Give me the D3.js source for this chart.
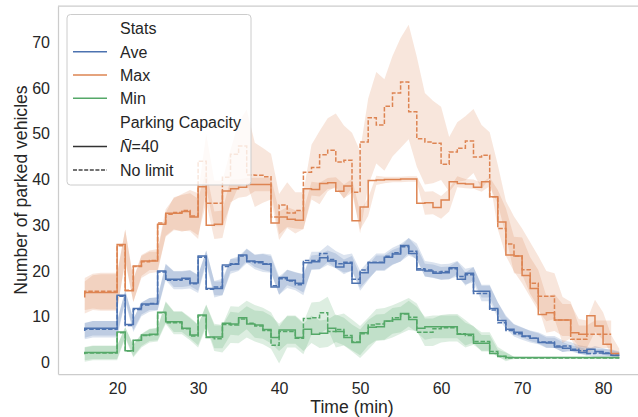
<!DOCTYPE html>
<html><head><meta charset="utf-8">
<script src="https://cdn.jsdelivr.net/npm/d3@7"></script>
<style>
body{margin:0;background:#fff}
svg{display:block}
text{font-family:"Liberation Sans",Arial,sans-serif;fill:#262626}
</style>
</head><body>
<svg id="c" width="638" height="417"></svg>
<script>
// ---------- data (minutes 16..82, step values; steps-pre) ----------
const minutes = d3.range(16, 83);
const minutesNoLimitMax = d3.range(16, 82);

const aveN40 = [7.0,7.5,7.5,7.5,7.5,14.7,8.3,11.8,12.8,12.8,20.0,18.2,18.2,18.4,17.4,23.3,16.2,16.2,21.3,21.5,23.5,22.2,22.0,21.5,16.5,18.6,18.0,17.3,21.8,22.0,22.9,22.2,20.9,21.7,17.3,19.6,21.8,21.8,23.0,23.7,25.6,23.8,20.2,20.0,19.5,19.6,20.7,18.2,19.5,15.6,15.6,11.8,9.2,7.3,6.6,5.8,5.3,4.4,4.3,3.4,3.1,2.7,2.2,2.9,2.4,2.0,1.6];
const aveNoLimit = [6.9,7.3,7.3,7.3,7.3,14.5,8.1,11.6,12.6,12.9,19.8,18.0,18.0,18.2,17.2,23.0,16.0,16.5,21.0,21.6,23.3,22.0,21.8,21.6,16.8,18.3,17.8,17.0,22.3,22.3,23.8,22.5,21.6,21.9,18.2,20.2,21.9,21.9,23.2,24.0,25.3,24.3,20.5,20.2,19.8,19.9,20.5,18.8,19.2,15.1,15.1,11.5,8.7,7.0,6.3,5.7,5.3,4.5,4.5,3.6,3.6,2.9,2.6,2.0,2.1,2.1,1.6];
const maxN40 = [14.2,15.3,15.3,15.3,15.3,25.8,15.7,21.1,22.2,22.2,30.2,32.6,32.6,33.0,31.8,38.4,30.0,30.2,37.5,38.0,38.3,38.9,38.9,38.9,30.5,31.8,31.3,31.1,38.0,37.8,39.1,39.3,37.4,38.6,31.0,34.0,39.8,39.9,40.0,40.0,40.1,40.1,34.8,34.9,33.9,35.5,39.5,39.1,39.0,38.3,39.5,36.2,30.7,23.5,23.3,19.0,16.2,10.5,10.9,9.3,9.3,6.5,6.2,10.2,8.0,4.0,2.0];
const maxNoLimit = [15.0,15.6,15.6,15.6,15.6,25.5,15.8,21.0,22.0,22.3,30.5,32.4,32.8,33.2,32.0,44.0,34.8,34.8,40.5,45.5,47.3,41.0,40.9,40.6,31.8,34.4,32.7,33.2,41.6,42.6,45.4,46.4,43.8,44.2,37.2,48.2,53.5,51.9,56.0,58.9,61.3,54.8,48.9,48.2,47.9,43.3,46.0,46.8,48.4,44.9,45.3,36.2,29.3,25.9,23.3,20.3,17.3,14.5,14.5,9.3,9.3,5.1,5.1,6.2,6.2,6.2];
const minN40 = [1.9,2.2,2.2,2.2,2.2,6.7,2.6,4.9,6.0,6.2,11.0,8.9,8.9,7.5,6.0,10.4,5.6,5.6,8.6,8.4,9.8,8.4,8.2,7.2,5.5,7.1,7.1,5.5,7.3,6.2,6.4,7.5,6.8,5.5,4.4,6.5,7.7,7.8,9.1,9.4,10.7,9.4,7.5,7.8,7.8,7.8,7.8,6.2,6.2,4.2,4.2,2.0,1.4,1.1,1.1,1.1,1.1,1.1,1.1,1.1,1.1,1.1,1.1,1.1,1.1,1.1,1.1];
const minNoLimit = [1.8,2.1,2.1,2.1,2.1,6.5,2.5,4.8,5.9,6.1,10.9,8.7,8.7,7.4,5.8,10.2,5.5,5.2,8.3,8.2,9.5,8.6,8.0,7.0,3.8,6.8,6.8,5.3,9.6,9.8,10.9,6.8,7.2,5.9,4.5,6.3,8.2,8.4,9.0,9.8,10.6,9.9,6.6,6.6,7.4,7.6,7.6,6.3,5.9,4.6,4.6,2.4,1.3,1.0,1.0,1.0,1.0,1.0,1.0,1.0,1.0,1.0,1.0,1.0,1.0,1.0,1.0];

// confidence band half-widths
const aveN40CI = [1.6,1.6,1.6,1.6,1.6,1,1.2,1.3,1.3,1.3,1.5,1.7,1.7,1.7,1.7,1.2,1.5,1.5,1.3,1.3,1.3,1.3,1.7,1.7,1.7,1.7,1.7,2,1.6,1.6,1.6,1.6,1.6,1.6,1.6,1.6,1.6,1.6,1.6,1.6,1.6,1.4,1.4,1.4,1.4,1.4,1.4,1.4,1.4,1.4,1.4,1.4,1.1,1.1,1.1,1.1,1.1,1.1,1.1,1.1,0.7,0.7,0.7,0.7,0.7,0.7,0.7];
const aveNoLimitCI = [1.8,1.8,1.8,1.8,1.8,1.3,1.4,1.5,1.5,1.5,1.8,2,2,2,2,1.5,1.8,1.8,1.6,1.6,1.6,1.6,2,2,2,2,2,2.3,1.9,1.9,1.9,1.9,1.9,1.9,1.9,1.9,1.9,1.9,1.9,1.9,1.9,1.7,1.7,1.7,1.7,1.7,1.7,1.7,1.7,1.7,1.7,1.7,1.3,1.3,1.3,1.3,1.3,1.3,1.3,1.3,0.9,0.9,0.9,0.9,0.9,0.8,0.8];
const maxN40CI = [3.5,3.8,4,4,4,3.3,2.5,2.2,2,2,2.5,3.5,4,4,4,3.5,3,3,2.5,2,2,1.5,1.5,1.5,2.5,2.2,2,2,1.5,1.5,1.2,1.2,1.5,1.5,2,2,1,0.7,0.6,0.6,0.6,0.6,2.5,2.5,2.5,2.5,1.2,1,1,1,1,1.5,3,4,4,4,4,4,4,3.5,3.5,3,3,3.5,3,2,1];
const maxNoLimitCI = [3.5,3.8,4,4,4,3.5,2.5,2.5,2.5,2.5,3,3.5,4,4.5,5,6,5,5,6,7,8,7,6,5,5,5,4.5,4,6,8,8,8,8,6,9,9.5,10,10,11,12,12.5,12,10,9,8,6,6.5,7,7,7,5,7,6,6,6,6,6,5.5,5,5,4,3,3,3,3,3];
const minN40CI = [1.4,1.4,1.4,1.4,1.4,1,1.2,1.3,1.3,1.3,2.2,2.2,2.2,2.2,2.2,2.2,2.5,2.5,2.5,2.5,2.5,3,3,3,3,3,3,3,3,3,3,3,3,2.8,2.8,2.8,2.8,2.8,2.8,2.8,2.8,2.8,2.5,2.5,2.5,2.5,2.5,2.5,1.8,1.8,1.8,0.8,0.8,0.15,0.15,0.15,0.15,0.15,0.15,0.15,0.15,0.15,0.15,0.15,0.15,0.15,0.15];
const minNoLimitCI = [1.6,1.6,1.6,1.6,1.6,1.2,1.4,1.5,1.5,1.5,2.5,2.5,2.5,2.5,2.5,2.5,3,3,4,4,4,4,4,4,4,3.5,3.5,3.5,3.5,3.5,3.5,3.5,3.5,3.5,3.5,3.5,3.5,3.5,3.5,3.5,3.5,3,3,3,3,3,3,3,2,2,2,1,1,0.2,0.2,0.2,0.2,0.2,0.2,0.2,0.2,0.2,0.2,0.2,0.2,0.2,0.2];

const xTicks = [20,30,40,50,60,70,80];
const yTicks = [0,10,20,30,40,50,60,70];
const statNames = ["Ave","Max","Min"];
const capacityNames = ["N\u0304=40","No limit"];

const colors = {Ave:"#4c72b0", Max:"#dd8452", Min:"#55a868"};

const series = [
  {stat:"Ave", dashed:false, t:minutes, v:aveN40, ci:aveN40CI},
  {stat:"Ave", dashed:true,  t:minutes, v:aveNoLimit, ci:aveNoLimitCI},
  {stat:"Max", dashed:false, t:minutes, v:maxN40, ci:maxN40CI},
  {stat:"Max", dashed:true,  t:minutesNoLimitMax, v:maxNoLimit, ci:maxNoLimitCI},
  {stat:"Min", dashed:false, t:minutes, v:minN40, ci:minN40CI},
  {stat:"Min", dashed:true,  t:minutes, v:minNoLimit, ci:minNoLimitCI}
];

// ---------- layout ----------
const svg = d3.select("#c");
const L = 58, R = 646, T = 6, B = 374;
const x = d3.scaleLinear().domain([12.7, 85.3]).range([L, R]);
const y = d3.scaleLinear().domain([-2.5, 77.9]).range([B, T]);

// bands
const gB = svg.append("g");
series.forEach(s => {
  const pts = s.t.map((t,i)=>({t, v:s.v[i], c:s.ci[i]}));
  const area = d3.area().x(d=>x(d.t)).y0(d=>y(d.v - d.c)).y1(d=>y(d.v + d.c));
  gB.append("path").attr("d", area(pts))
    .attr("fill", colors[s.stat]).attr("fill-opacity", 0.2).attr("stroke","none");
});

// lines
const gL = svg.append("g");
series.forEach(s => {
  const pts = s.t.map((t,i)=>({t, v:s.v[i]}));
  const line = d3.line().x(d=>x(d.t)).y(d=>y(d.v)).curve(d3.curveStepBefore);
  gL.append("path").attr("d", line(pts))
    .attr("fill","none").attr("stroke", colors[s.stat])
    .attr("stroke-width", 1.5)
    .attr("stroke-dasharray", s.dashed ? "4.5,1.8" : null);
});

// spines
const spine = "#cccccc";
svg.append("line").attr("x1",L).attr("x2",R).attr("y1",T).attr("y2",T).attr("stroke",spine).attr("stroke-width",1.25);
svg.append("line").attr("x1",R).attr("x2",R).attr("y1",T).attr("y2",B).attr("stroke",spine).attr("stroke-width",1.25);

const yAxis = svg.append("g").attr("transform",`translate(${L},0)`)
  .call(d3.axisLeft(y).tickValues(yTicks).tickSize(0).tickPadding(8));
const xAxis = svg.append("g").attr("transform",`translate(0,${B})`)
  .call(d3.axisBottom(x).tickValues(xTicks).tickSize(0).tickPadding(8.5));
[yAxis,xAxis].forEach(a=>{
  a.select(".domain").attr("stroke",spine).attr("stroke-width",1.25);
  a.selectAll("text").attr("font-family",'"Liberation Sans",Arial,sans-serif')
    .attr("font-size",16).attr("fill","#262626");
});

// axis labels
svg.append("text").attr("x",352).attr("y",413).attr("text-anchor","middle")
  .attr("font-size",17.6).text("Time (min)");
svg.append("text").attr("transform","translate(27,190) rotate(-90)").attr("text-anchor","middle")
  .attr("font-size",17.6).text("Number of parked vehicles");

// legend
const lg = svg.append("g");
lg.append("rect").attr("x",67).attr("y",14.5).attr("width",184).attr("height",170.5)
  .attr("rx",3.5).attr("fill","#fff").attr("fill-opacity",0.8)
  .attr("stroke","#cccccc").attr("stroke-width",1);
const rows = [
  {label:"Stats", title:true},
  {label:statNames[0], color:colors.Ave},
  {label:statNames[1], color:colors.Max},
  {label:statNames[2], color:colors.Min},
  {label:"Parking Capacity", title:true},
  {label:capacityNames[0], color:"#333333", italicN:true},
  {label:capacityNames[1], color:"#444444", dashed:true}
];
const rowY = [27.7,51.7,75,98.3,122.5,146.5,170];
rows.forEach((r,i)=>{
  const cy = rowY[i];
  if(!r.title){
    lg.append("line").attr("x1",73).attr("x2",107).attr("y1",cy).attr("y2",cy)
      .attr("stroke",r.color).attr("stroke-width",1.5)
      .attr("stroke-dasharray", r.dashed ? "4,1.6" : null);
  }
  const t = lg.append("text").attr("x",120).attr("y",cy+5.8).attr("font-size",16);
  if(r.italicN){
    t.append("tspan").attr("font-style","italic").text("N\u0304");
    t.append("tspan").text("=40");
  } else t.text(r.label);
});
</script>
</body></html>
